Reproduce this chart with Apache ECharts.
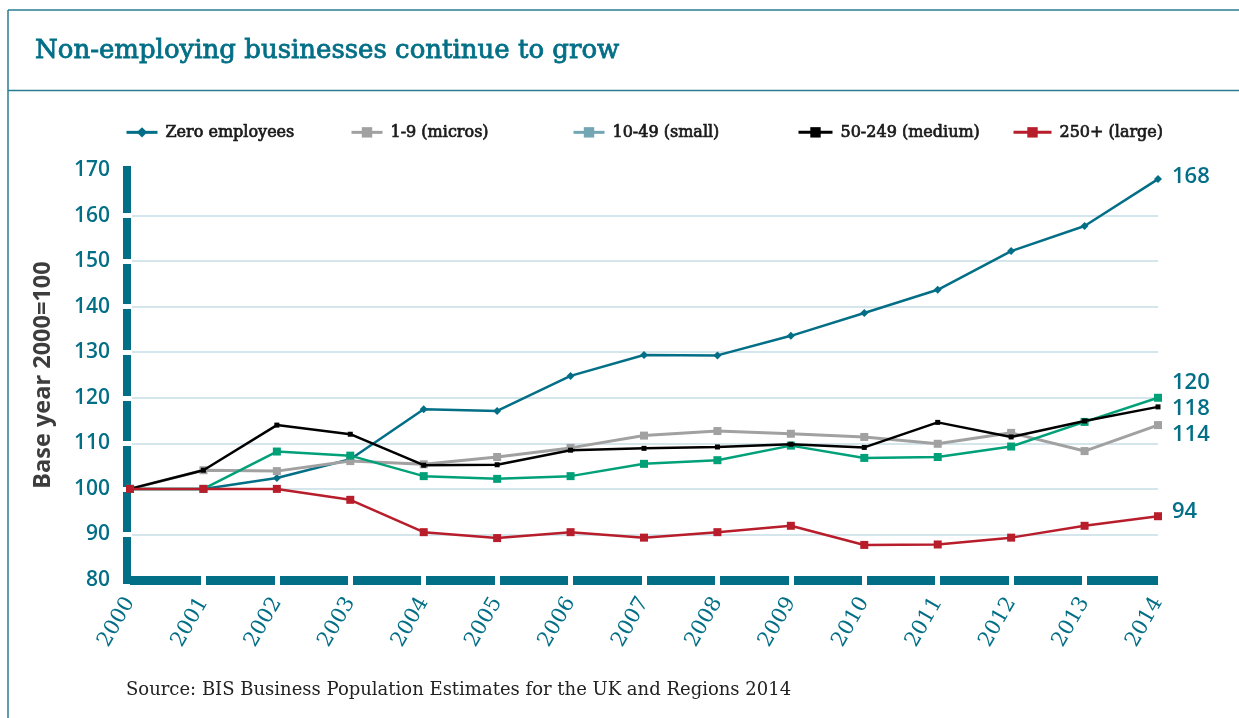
<!DOCTYPE html>
<html>
<head>
<meta charset="utf-8">
<title>Non-employing businesses continue to grow</title>
<script src="https://cdn.jsdelivr.net/npm/echarts@6.0.0/dist/echarts.min.js"></script>
<style>
  html, body { margin: 0; padding: 0; background: #ffffff; }
  #chart { width: 1239px; height: 718px; }
</style>
</head>
<body>
<div id="chart"></div>
<script>
// Index values, base year 2000 = 100
const years = ['2000', '2001', '2002', '2003', '2004', '2005', '2006', '2007',
               '2008', '2009', '2010', '2011', '2012', '2013', '2014'];
const zeroEmployees = [100, 100, 102.4, 106.5, 117.5, 117.1, 124.8, 129.4, 129.3, 133.6, 138.6, 143.7, 152.2, 157.7, 168];
const micros        = [100, 104.1, 103.9, 106.1, 105.4, 107.0, 109.0, 111.7, 112.7, 112.1, 111.4, 109.9, 112.3, 108.3, 114];
const small         = [100, 100, 108.2, 107.3, 102.8, 102.2, 102.8, 105.5, 106.3, 109.5, 106.8, 107.0, 109.3, 114.7, 120];
const medium        = [100, 104.1, 114.0, 112.0, 105.2, 105.3, 108.5, 108.9, 109.2, 109.8, 109.1, 114.6, 111.4, 114.9, 118];
const large         = [100, 100, 100, 97.6, 90.5, 89.2, 90.5, 89.3, 90.5, 91.9, 87.7, 87.8, 89.3, 91.9, 94];
const seriesNames   = ['Zero employees', '1-9 (micros)', '10-49 (small)', '50-249 (medium)', '250+ (large)'];
const yTickValues   = [90, 100, 110, 120, 130, 140, 150, 160];

const TEAL = '#036f87';
const GRID_BLUE = '#c6dde5';
const SANS = '"Open Sans", "Noto Sans", sans-serif';
const SERIF = '"DejaVu Serif", serif';

// Layout of the five legend entries along the top
const legendLeft = [120, 345, 567, 792, 1007];
const legendIconWidth = [31, 31, 31, 34, 38];

// Per-series styling
const styles = [
  { color: TEAL,      width: 2.5, symbol: 'diamond', size: 8, labelDy: -2 },
  { color: '#a1a1a1', width: 3,   symbol: 'rect',    size: 8, labelDy: 10 },
  { color: '#00a079', width: 2.5, symbol: 'rect',    size: 8, labelDy: -15 },
  { color: '#000000', width: 2.5, symbol: 'rect',    size: 5, labelDy: 2 },
  { color: '#b81d2b', width: 2.5, symbol: 'rect',    size: 8, labelDy: -4 }
];
const values = [zeroEmployees, micros, small, medium, large];

// White gaps in the axis bars sit at every inner category
const innerCategory = (idx) => idx > 0 && idx < years.length - 1;

const chart = echarts.init(document.getElementById('chart'), null, { renderer: 'canvas' });

const option = {
  backgroundColor: '#ffffff',
  animation: false,
  title: {
    text: 'Non-employing businesses continue to grow',
    left: 30, top: 33,
    textStyle: { fontFamily: SERIF, fontSize: 26, fontWeight: 'normal', color: TEAL,
                 textBorderColor: TEAL, textBorderWidth: 0.8 }
  },
  legend: seriesNames.map((name, i) => ({
    data: [i === 2
      ? { name, itemStyle: { color: '#72a6b3' }, lineStyle: { color: '#72a6b3', width: 3 } }
      : { name, lineStyle: { width: 3 } }],
    left: legendLeft[i], top: 119,
    itemWidth: legendIconWidth[i], itemHeight: 13,
    selectedMode: false,
    textStyle: { fontFamily: SERIF, fontSize: 16, fontWeight: 'normal', color: '#1a1a1a',
                 textBorderColor: '#1a1a1a', textBorderWidth: 0.7, padding: [0, 0, 0, 3] }
  })),
  grid: {
    left: 130, right: 81, top: 170, bottom: 138,
    containLabel: false, outerBoundsMode: 'none'
  },
  xAxis: [
    {
      type: 'category', data: years, boundaryGap: false, position: 'bottom', offset: 0, z: 3,
      axisLine: { show: true, lineStyle: { color: TEAL, width: 9, cap: 'butt' } },
      axisTick: { show: true, interval: innerCategory, inside: false, length: 5,
                  lineStyle: { color: '#ffffff', width: 5, cap: 'butt' } },
      axisLabel: { rotate: 60, margin: 19, color: TEAL, fontFamily: SERIF, fontSize: 21 },
      splitLine: { show: false }
    },
    {
      type: 'category', data: years, boundaryGap: false, position: 'bottom', offset: 0, z: 3,
      axisLine: { show: false },
      axisTick: { show: true, interval: innerCategory, inside: true, length: 5,
                  lineStyle: { color: '#ffffff', width: 5, cap: 'butt' } },
      axisLabel: { show: false },
      splitLine: { show: false }
    }
  ],
  yAxis: [
    {
      type: 'value', min: 80, max: 170, interval: 10, position: 'left', offset: 3, z: 1,
      name: 'Base year 2000=100', nameLocation: 'middle', nameGap: 72, nameRotate: 90,
      nameTextStyle: { fontFamily: SANS, fontSize: 23.5, fontWeight: 'bold', color: '#3d3d3d' },
      axisLine: { show: true, lineStyle: { color: TEAL, width: 8, cap: 'square' } },
      axisTick: { show: true, customValues: yTickValues, inside: false, length: 5,
                  lineStyle: { color: '#ffffff', width: 5, cap: 'butt' } },
      axisLabel: { margin: 17, color: TEAL, fontFamily: SANS, fontSize: 21, fontWeight: 600 },
      splitLine: { show: true, lineStyle: { color: GRID_BLUE, width: 1.5 } }
    },
    {
      type: 'value', min: 80, max: 170, interval: 10, position: 'left', offset: 3, z: 1,
      axisLine: { show: false },
      axisTick: { show: true, customValues: yTickValues, inside: true, length: 5,
                  lineStyle: { color: '#ffffff', width: 5, cap: 'butt' } },
      axisLabel: { show: false },
      splitLine: { show: false }
    }
  ],
  series: seriesNames.map((name, i) => ({
    name, type: 'line', xAxisIndex: 0, yAxisIndex: 0,
    data: values[i],
    symbol: styles[i].symbol, symbolSize: styles[i].size, showAllSymbol: true,
    itemStyle: { color: styles[i].color },
    lineStyle: { color: styles[i].color, width: styles[i].width },
    emphasis: { disabled: true },
    z: 2 + i,
    endLabel: {
      show: true, distance: 14, offset: [0, styles[i].labelDy],
      formatter: (p) => String(Math.round(p.value)),
      color: TEAL, fontFamily: SANS, fontSize: 22, fontWeight: 600
    }
  })),
  graphic: [
    { type: 'line', shape: { x1: 8, y1: 10, x2: 1239, y2: 10 }, style: { stroke: '#2a7d90', lineWidth: 1.5 } },
    { type: 'line', shape: { x1: 8, y1: 10, x2: 8, y2: 718 }, style: { stroke: '#2a7d90', lineWidth: 1.5 } },
    { type: 'line', shape: { x1: 8, y1: 90.5, x2: 1239, y2: 90.5 }, style: { stroke: '#2a7d90', lineWidth: 1.5 } },
    { type: 'text', left: 126, top: 681,
      style: { text: 'Source: BIS Business Population Estimates for the UK and Regions 2014',
               font: '18px "DejaVu Serif", serif', fill: '#222222' } }
  ]
};

chart.setOption(option);
</script>
</body>
</html>
